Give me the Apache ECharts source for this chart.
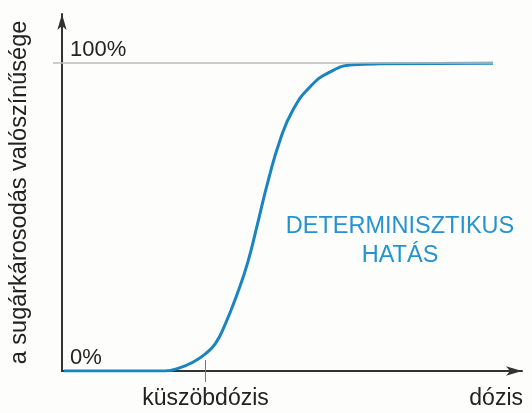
<!DOCTYPE html>
<html>
<head>
<meta charset="utf-8">
<script src="https://cdn.jsdelivr.net/npm/echarts@6/dist/echarts.min.js"></script>
<style>
  html, body { margin: 0; padding: 0; background: #fdfdfb; }
  #main { width: 532px; height: 413px; }
</style>
</head>
<body>
<div id="main"></div>
<script>
// dose (0..100) and probability (%)
var doseValues = [0.4, 19.1, 22.4, 25.7, 28.5, 31.1, 33.3, 35.4, 38, 40.4, 42.6, 44.8, 47.4, 50.2, 53.9, 58.3, 63.3, 69.1, 93.7];
var probValues = [0, 0, 0, 1.1, 2.9, 5.5, 8.8, 14.9, 24.7, 35.4, 48.4, 61.7, 75, 84.8, 92.3, 97.2, 99.5, 99.8, 100];
var thresholdDose = [31.2];
var yTicks = [0, 100];
var yTickLabels = ['0%', '100%'];

var font = "'Liberation Sans', Arial, sans-serif";
var blue = '#1a84bf';

var myChart = echarts.init(document.getElementById('main'));

var points = [];
for (var i = 0; i < doseValues.length; i++) {
    points.push([doseValues[i], probValues[i]]);
}

var option = {
    backgroundColor: '#fdfdfb',
    animation: false,
    grid: { left: 62, right: 10, top: 14, bottom: 42 },
    xAxis: [
        {
            type: 'value',
            min: 0,
            max: 100,
            name: 'dózis',
            nameLocation: 'end',
            nameGap: 1,
            nameTextStyle: { fontFamily: font, fontSize: 23, color: '#222', align: 'right', verticalAlign: 'top', padding: [16, 0, 0, 0] },
            splitLine: { show: false },
            axisLine: { lineStyle: { color: '#333', width: 2 }, symbol: ['none', 'arrow'], symbolSize: [7, 16] },
            axisTick: { show: true, customValues: thresholdDose, length: 11, lineStyle: { color: '#777', width: 1 } },
            axisLabel: { customValues: thresholdDose, formatter: function () { return 'küszöbdózis'; }, fontFamily: font, fontSize: 23, color: '#222', margin: 16 }
        },
        {
            type: 'value',
            position: 'bottom',
            min: 0,
            max: 100,
            splitLine: { show: false },
            axisLine: { show: false },
            axisTick: { show: true, inside: true, customValues: thresholdDose, length: 11, lineStyle: { color: '#777', width: 1 } },
            axisLabel: { show: false }
        }
    ],
    yAxis: {
        type: 'value',
        min: 0,
        max: 116,
        name: 'a sugárkárosodás valószínűsége',
        nameLocation: 'middle',
        nameGap: 30,
        nameTextStyle: { fontFamily: font, fontSize: 23.5, color: '#222' },
        splitLine: { show: false },
        axisLine: { lineStyle: { color: '#333', width: 2 }, symbol: ['none', 'arrow'], symbolSize: [7, 16] },
        axisTick: { show: true, customValues: [100], length: 9, lineStyle: { color: '#bbb', width: 1.5 } },
        axisLabel: {
            inside: true,
            customValues: yTicks,
            formatter: function (v) { return yTickLabels[yTicks.indexOf(v)]; },
            fontFamily: font, fontSize: 22, color: '#222',
            verticalAlign: 'bottom',
            padding: [0, 0, 2, 0],
            margin: 8
        }
    },
    graphic: [
        {
            type: 'text',
            x: 400,
            y: 212,
            style: {
                text: 'DETERMINISZTIKUS\nHATÁS',
                font: '23.5px ' + font,
                fill: '#2593d0',
                align: 'center',
                lineHeight: 29
            }
        }
    ],
    series: [
        {
            type: 'line',
            data: points,
            smooth: true,
            showSymbol: false,
            lineStyle: { color: blue, width: 3 },
            markLine: {
                silent: true,
                symbol: 'none',
                label: { show: false },
                lineStyle: { color: '#bbb', width: 1.5, type: 'solid' },
                data: [[{ coord: [0, 100] }, { coord: [93.7, 100] }]]
            },
            z: 3
        }
    ]
};

myChart.setOption(option);
</script>
</body>
</html>
